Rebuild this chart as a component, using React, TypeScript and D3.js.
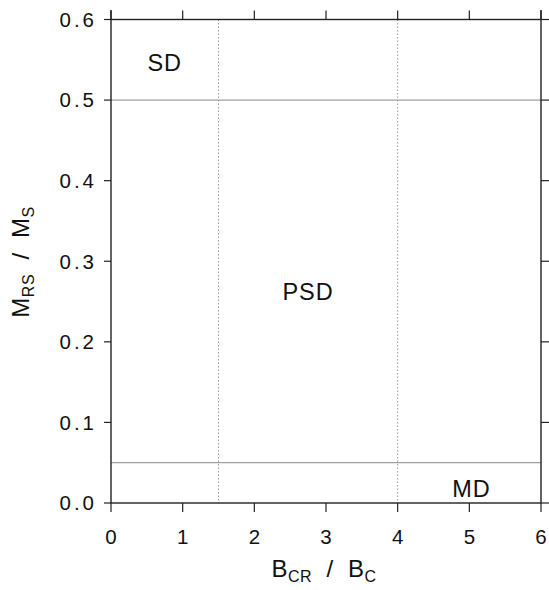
import React from "react";
import * as d3 from "d3";

const xTicks = [0, 1, 2, 3, 4, 5, 6];
const yTicks = [0.0, 0.1, 0.2, 0.3, 0.4, 0.5, 0.6];
const hLines = [0.5, 0.05];
const vLines = [1.5, 4];
const regions = [
  { label: "SD", x: 0.75, y: 0.546 },
  { label: "PSD", x: 2.75, y: 0.262 },
  { label: "MD", x: 5.03, y: 0.018 },
];

const W = 549, H = 590;
const L = 111, R = 541, T = 19.5, B = 503;

export default function App() {
  const x = d3.scaleLinear().domain([0, 6]).range([L, R]);
  const y = d3.scaleLinear().domain([0, 0.6]).range([B, T]);
  const font = "'Liberation Sans', Arial, Helvetica, sans-serif";
  return (
    <svg width={W} height={H} style={{ position: "absolute", left: 0, top: 0, background: "#fff" }} fontFamily={font}>
      {vLines.map((v) => (
        <line key={"v" + v} x1={x(v)} x2={x(v)} y1={y(0.6)} y2={y(0)} stroke="#999" strokeWidth={1} strokeDasharray="1.5,2" />
      ))}
      {hLines.map((v) => (
        <line key={"h" + v} x1={x(0)} x2={x(6)} y1={y(v)} y2={y(v)} stroke="#888" strokeWidth={1} />
      ))}
      <rect x={L} y={T} width={R - L} height={B - T} fill="none" stroke="#222" strokeWidth={1.4} />
      <line x1={L} x2={L} y1={10} y2={T} stroke="#222" strokeWidth={1.4} />
      <line x1={R} x2={R} y1={10} y2={T} stroke="#222" strokeWidth={1.4} />
      {xTicks.map((t) => (
        <g key={"xt" + t}>
          <line x1={x(t)} x2={x(t)} y1={B} y2={B + 9} stroke="#222" strokeWidth={1.2} />
          <line x1={x(t)} x2={x(t)} y1={T} y2={T - 9} stroke="#222" strokeWidth={1.2} />
          <text x={x(t)} y={544} textAnchor="middle" fontSize={20.5} fill="#111">{t}</text>
        </g>
      ))}
      {yTicks.map((t) => (
        <g key={"yt" + t}>
          <line x1={L} x2={L - 7} y1={y(t)} y2={y(t)} stroke="#222" strokeWidth={1.2} />
          <line x1={R} x2={R + 8} y1={y(t)} y2={y(t)} stroke="#222" strokeWidth={1.2} />
          <text x={97} y={y(t) + 7.3} textAnchor="end" fontSize={20.5} letterSpacing={3} fill="#111">{d3.format(".1f")(t)}</text>
        </g>
      ))}
      {regions.map((r) => (
        <text key={r.label} x={x(r.x)} y={y(r.y)} dy="0.35em" textAnchor="middle" fontSize={23.5} letterSpacing={1} fill="#111">{r.label}</text>
      ))}
      <text x={324} y={577} textAnchor="middle" fontSize={24} fill="#111" letterSpacing={0.5} style={{ whiteSpace: "pre" }}>
        <tspan>B</tspan>
        <tspan fontSize={16} dy={5}>CR</tspan>
        <tspan dy={-5}>{"  /  B"}</tspan>
        <tspan fontSize={16} dy={5}>C</tspan>
      </text>
      <text transform={`translate(29,262) rotate(-90)`} textAnchor="middle" fontSize={24} fill="#111" letterSpacing={0.5} style={{ whiteSpace: "pre" }}>
        <tspan>M</tspan>
        <tspan fontSize={16} dy={5}>RS</tspan>
        <tspan dy={-5}>{"  /  M"}</tspan>
        <tspan fontSize={16} dy={5}>S</tspan>
      </text>
    </svg>
  );
}
